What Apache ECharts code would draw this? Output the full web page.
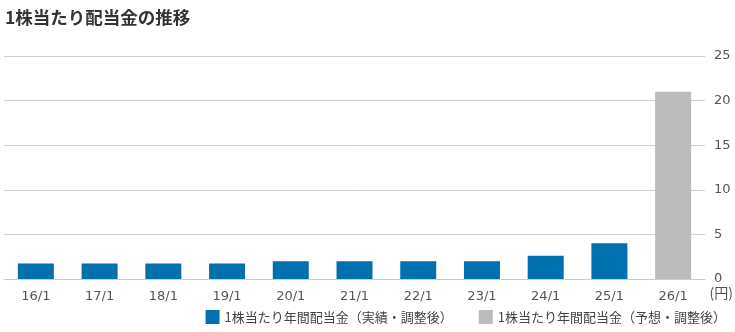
<!DOCTYPE html>
<html><head><meta charset="utf-8">
<script src="https://cdn.jsdelivr.net/npm/echarts@6/dist/echarts.min.js"></script>
<style>html,body{margin:0;padding:0;background:#fff}#c{width:735px;height:332px}</style>
</head><body><div id="c"></div>
<script>
const categories = ['16/1','17/1','18/1','19/1','20/1','21/1','22/1','23/1','24/1','25/1','26/1'];
const actual = [1.75, 1.75, 1.75, 1.75, 2.0, 2.0, 2.0, 2.0, 2.6, 4.0, null];
const forecast = [null, null, null, null, null, null, null, null, null, null, 21.0];
const yTicks = [0, 5, 10, 15, 20, 25];
const titleText = '1株当たり配当金の推移';
const actualName = '1株当たり年間配当金（実績・調整後）';
const forecastName = '1株当たり年間配当金（予想・調整後）';
const unitText = '(円)';

const font = '"Noto Sans CJK JP", sans-serif';
const numFont = '"DejaVu Sans", "Noto Sans CJK JP", sans-serif';
const chart = echarts.init(document.getElementById('c'), null, {renderer: 'canvas'});
chart.setOption({
  animation: false,
  textStyle: {fontFamily: font},
  title: {text: titleText, left: 0, top: 4, textStyle: {fontSize: 17.5, fontWeight: 'bold', color: '#333', fontFamily: font}},
  grid: {left: 4, right: 30, top: 56, bottom: 53, containLabel: false},
  legend: {
    right: 4, bottom: 3, itemWidth: 14, itemHeight: 14, itemGap: 26, icon: 'rect',
    textStyle: {fontSize: 13, color: '#444', fontFamily: font},
    data: [actualName, forecastName]
  },
  xAxis: {
    type: 'category', data: categories,
    axisLine: {lineStyle: {color: '#cccccc'}}, axisTick: {show: false},
    axisLabel: {fontSize: 13, color: '#555', margin: 11, fontFamily: numFont}
  },
  yAxis: {
    type: 'value', position: 'right', min: yTicks[0], max: yTicks[yTicks.length-1], interval: 5,
    axisLine: {show: false}, axisTick: {show: false},
    splitLine: {lineStyle: {color: '#d0d0d0'}},
    axisLabel: {fontSize: 13, color: '#555', margin: 9, fontFamily: numFont}
  },
  graphic: [{type: 'text', right: 2, top: 286, style: {text: unitText, fontSize: 14, fill: '#555', fontFamily: font}}],
  series: [
    {name: actualName, type: 'bar', data: actual, barWidth: 36, barGap: '-100%', itemStyle: {color: '#0071ae'}},
    {name: forecastName, type: 'bar', data: forecast, barWidth: 36, barGap: '-100%', itemStyle: {color: '#bcbcbc'}}
  ]
});
</script></body></html>
